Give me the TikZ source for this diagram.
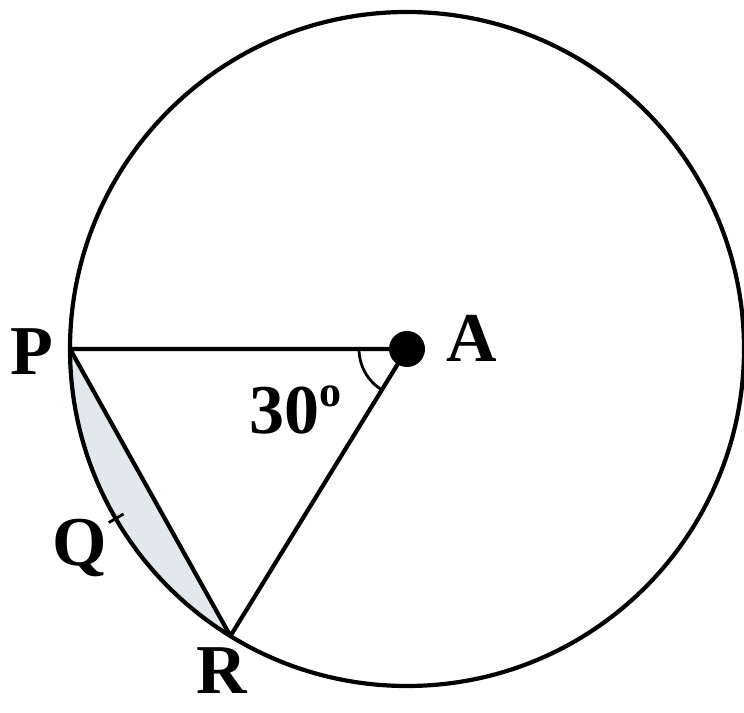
\documentclass[tikz,border=0pt]{standalone}
\usepackage{fontspec}
\setmainfont{Liberation Serif}
\usepackage{tikz}
\usetikzlibrary{calc}
\definecolor{segment}{RGB}{226,233,236}

\begin{document}
\begin{tikzpicture}[
  x=1pt, y=1pt,
  line/.style={line width=4.2pt, line cap=round, line join=round},
  thinline/.style={line width=2.8pt},
  lbl/.style={font=\fontsize{70}{70}\selectfont\bfseries, inner sep=0pt}]

  \useasboundingbox (0,0) rectangle (744,712);

  \coordinate (A) at (407,363);
  \coordinate (P) at ($(A)+(180:337)$);
  \coordinate (R) at ($(A)+(238.4:337)$);
  \coordinate (Q) at ($(A)+(210.2:337)$);

  % minor segment PQR
  \fill[segment] (P) arc[start angle=180, end angle=238.4, radius=337] -- cycle;

  \draw[line] (A) circle[radius=337];
  \draw[line] (P) -- (A) -- (R) -- cycle;
  \draw[thinline] ($(A)+(180:48)$) arc[start angle=180, end angle=238.4, radius=48];
  \draw[thinline] ($(Q)+(210.2:-9)$) -- ($(Q)+(210.2:8)$);
  \fill (A) circle[radius=18];

  \node[lbl] (lblP) at (32,360) {P};
  \node[lbl] (lblA) at (472,374) {A};
  \node[lbl] (lblQ) at (80,164) {Q};
  \node[lbl] (lblR) at (222,41) {R};
  \node[lbl] (lblAngle) at (295,302) {30\raisebox{27pt}{\fontsize{44}{44}\selectfont o}};
\end{tikzpicture}
\end{document}
